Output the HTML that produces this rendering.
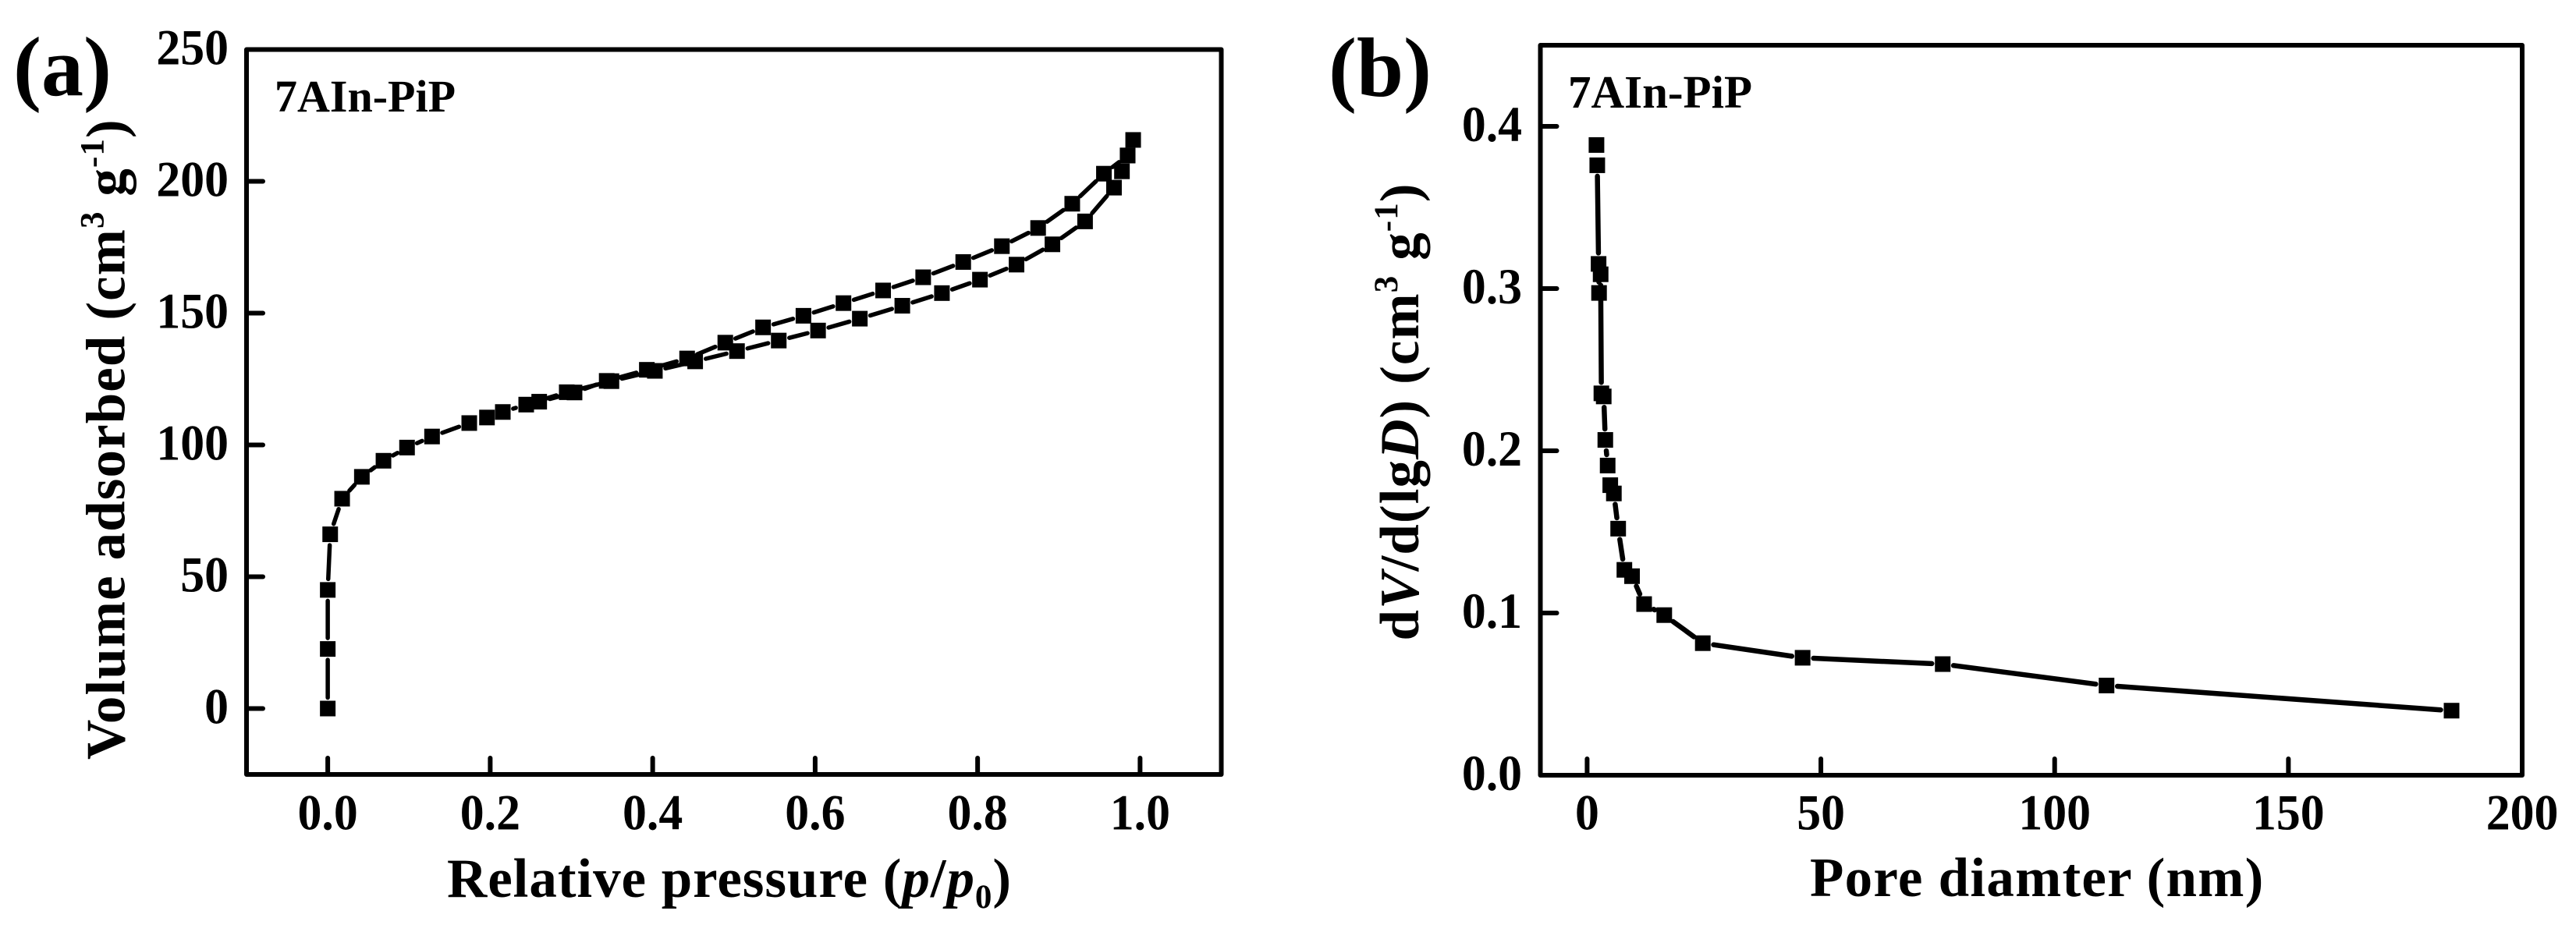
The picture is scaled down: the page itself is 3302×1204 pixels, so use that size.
<!DOCTYPE html>
<html>
<head>
<meta charset="utf-8">
<title>7AIn-PiP adsorption isotherm and pore size distribution</title>
<style>
html,body{margin:0;padding:0;background:#fff;width:3302px;height:1204px;overflow:hidden}
svg{display:block}
text{font-family:"Liberation Serif",serif;font-weight:700;fill:#000}
.tick{font-size:65px}
.title{font-size:71px;letter-spacing:.95px}
.panel{font-size:108px}
.sample{font-size:58px}
</style>
</head>
<body>
<svg id="figure" xmlns="http://www.w3.org/2000/svg" width="3302" height="1204" viewBox="0 0 3302 1204">
  <g id="chart-a"></g>
  <g id="chart-b"></g>

  <text class="panel" x="17" y="122">(a)</text>
  <text class="sample" x="352" y="143">7AIn-PiP</text>
  <text class="title" x="573" y="1150">Relative pressure (<tspan font-style="italic">p</tspan>/<tspan font-style="italic">p</tspan><tspan font-size="43" dy="14">0</tspan><tspan dy="-14">)</tspan></text>
  <text class="title" transform="translate(159.5,974) rotate(-90)" style="letter-spacing:1.1px">Volume adsorbed (cm<tspan font-size="43" dy="-27">3</tspan><tspan dy="27"> g</tspan><tspan font-size="43" dy="-27">-1</tspan><tspan dy="27">)</tspan></text>

  <text class="panel" x="1703" y="123">(b)</text>
  <text class="sample" x="2010" y="138" style="font-size:59px">7AIn-PiP</text>
  <text class="title" x="2320" y="1149" style="letter-spacing:1.25px">Pore diamter (nm)</text>
  <text class="title" transform="translate(1818,821.5) rotate(-90)" style="letter-spacing:1.1px">d<tspan font-style="italic">V</tspan>/d(lg<tspan font-style="italic">D</tspan>) (cm<tspan font-size="43" dy="-27">3</tspan><tspan dy="27"> g</tspan><tspan font-size="43" dy="-27">-1</tspan><tspan dy="27">)</tspan></text>
</svg>
<script>
// Panel (a) data: relative pressure vs. volume adsorbed
const adsorptionP = [0, 0, 0, 0.003, 0.0177, 0.042, 0.0686, 0.0976, 0.1284, 0.1742, 0.196, 0.2155, 0.2443, 0.2942, 0.3492, 0.4027, 0.4523, 0.5038, 0.5552, 0.6036, 0.655, 0.7073, 0.7561, 0.8029, 0.8479, 0.8921, 0.9323, 0.9679, 0.9777, 0.9847, 0.9915];
const adsorptionV = [0, 22.6, 45, 66.1, 79.6, 87.9, 94, 99, 103.2, 108.3, 110.4, 112.5, 115.3, 120, 124.2, 128.1, 131.7, 135.6, 139.6, 143.4, 147.9, 152.8, 157.6, 162.7, 168.4, 176.1, 184.8, 197.6, 203.8, 209.8, 215.7];
const desorptionP = [0.9847, 0.9555, 0.9165, 0.8745, 0.8299, 0.7823, 0.733, 0.6837, 0.6349, 0.5856, 0.5359, 0.4894, 0.4424, 0.3928, 0.3434, 0.3038, 0.2603];
const desorptionV = [209.8, 202.9, 191.5, 182.3, 175.4, 169.4, 163.6, 158.6, 153.8, 149, 144.6, 138.8, 132.8, 128.5, 124.3, 119.9, 116.4];
const xTicksA = [0, 0.2, 0.4, 0.6, 0.8, 1];
const xTickLabelsA = ["0.0", "0.2", "0.4", "0.6", "0.8", "1.0"];
const yTicksA = [0, 50, 100, 150, 200, 250];
const yTickLabelsA = ["0", "50", "100", "150", "200", "250"];

// Panel (b) data: pore diameter vs. dV/d(lgD)
const poreDiameter = [2.0, 2.17, 2.45, 2.55, 2.89, 3.05, 3.55, 3.89, 4.39, 4.95, 5.72, 6.64, 7.97, 9.61, 12.19, 16.5, 24.74, 46.09, 76.06, 111.1, 184.9];
const poreVolume = [0.3885, 0.376, 0.3152, 0.2973, 0.3088, 0.2354, 0.2335, 0.2067, 0.1909, 0.1788, 0.1737, 0.152, 0.1266, 0.1227, 0.1055, 0.0987, 0.0814, 0.0724, 0.0685, 0.0553, 0.0398];
const xTicksB = [0, 50, 100, 150, 200];
const xTickLabelsB = ["0", "50", "100", "150", "200"];
const yTicksB = [0, 0.1, 0.2, 0.3, 0.4];
const yTickLabelsB = ["0.0", "0.1", "0.2", "0.3", "0.4"];

const NS = 'http://www.w3.org/2000/svg';
const MARKER = 20;
const GAP = 14;

function linear(d0, d1, r0, r1) {
  return function (v) { return r0 + (v - d0) * (r1 - r0) / (d1 - d0); };
}

function make(tag, attrs, parent) {
  const el = document.createElementNS(NS, tag);
  for (const k in attrs) el.setAttribute(k, attrs[k]);
  parent.appendChild(el);
  return el;
}

function condense(label) {
  const natural = label.getComputedTextLength();
  label.setAttribute('textLength', natural * 0.95);
  label.setAttribute('lengthAdjust', 'spacingAndGlyphs');
}

function drawFrame(root, box) {
  const frame = make('rect', {
    x: box.left, y: box.top, width: box.right - box.left, height: box.bottom - box.top,
    fill: 'none', stroke: '#000', 'stroke-width': 6, 'stroke-linejoin': 'round'
  }, root);
  
  
}

function drawAxes(root, box, sx, sy, xTicks, xLabels, yTicks, yLabels, labelRight) {
  xTicks.forEach(function (t, i) {
    const x = sx(t);
    if (t < sx.max) {
      const tick = make('line', {
        x1: x, x2: x, y1: box.bottom, y2: box.bottom - 21,
        stroke: '#000', 'stroke-width': 6, 'stroke-linecap': 'round'
      }, root);
      
      
    }
    const label = make('text', { class: 'tick', x: x, y: 1063.5, 'text-anchor': 'middle' }, root);
    label.textContent = xLabels[i];
    condense(label);
    
    
  });
  yTicks.forEach(function (t, i) {
    const y = sy(t);
    if (t > sy.min && t < sy.max) {
      const tick = make('line', {
        x1: box.left, x2: box.left + 21, y1: y, y2: y,
        stroke: '#000', 'stroke-width': 6, 'stroke-linecap': 'round'
      }, root);
      
      
    }
    const label = make('text', { class: 'tick', x: labelRight, y: y + 19, 'text-anchor': 'end' }, root);
    label.textContent = yLabels[i];
    condense(label);
    
    
  });
}

function drawSeries(root, xs, ys, sx, sy, strokeWidth, name) {
  const group = make('g', {}, root);
  
  
  const pts = xs.map(function (v, i) { return [sx(v), sy(ys[i])]; });
  for (let i = 0; i < pts.length - 1; i++) {
    const dx = pts[i + 1][0] - pts[i][0];
    const dy = pts[i + 1][1] - pts[i][1];
    const len = Math.hypot(dx, dy);
    if (len <= GAP * 2) continue;
    const ux = dx / len;
    const uy = dy / len;
    const seg = make('line', {
      x1: pts[i][0] + ux * GAP, y1: pts[i][1] + uy * GAP,
      x2: pts[i + 1][0] - ux * GAP, y2: pts[i + 1][1] - uy * GAP,
      stroke: '#000', 'stroke-width': strokeWidth, 'stroke-linecap': 'round'
    }, group);
    
    
  }
  pts.forEach(function (p) {
    const m = make('rect', {
      x: p[0] - MARKER / 2, y: p[1] - MARKER / 2, width: MARKER, height: MARKER, fill: '#000'
    }, group);
    
    
  });
}

// Panel (a)
const rootA = document.getElementById('chart-a');
const boxA = { left: 316, right: 1565.5, top: 63.5, bottom: 993 };
const xA = linear(-0.1, 1.1, boxA.left, boxA.right);
xA.max = 1.1;
const yA = linear(-25, 250, boxA.bottom, boxA.top);
yA.min = -25;
yA.max = 250;
drawFrame(rootA, boxA);
drawAxes(rootA, boxA, xA, yA, xTicksA, xTickLabelsA, yTicksA, yTickLabelsA, 293);
drawSeries(rootA, adsorptionP, adsorptionV, xA, yA, 5.5, 'adsorption-series');
drawSeries(rootA, desorptionP, desorptionV, xA, yA, 5.5, 'desorption-series');

// Panel (b)
const rootB = document.getElementById('chart-b');
const boxB = { left: 1974.5, right: 3233, top: 58, bottom: 994 };
const xB = linear(-10, 200, boxB.left, boxB.right);
xB.max = 200;
const yB = linear(0, 0.45, boxB.bottom, boxB.top);
yB.min = 0;
yB.max = 0.45;
drawFrame(rootB, boxB);
drawAxes(rootB, boxB, xB, yB, xTicksB, xTickLabelsB, yTicksB, yTickLabelsB, 1951);
drawSeries(rootB, poreDiameter, poreVolume, xB, yB, 6.5, 'pore-distribution-series');
</script>
</body>
</html>
